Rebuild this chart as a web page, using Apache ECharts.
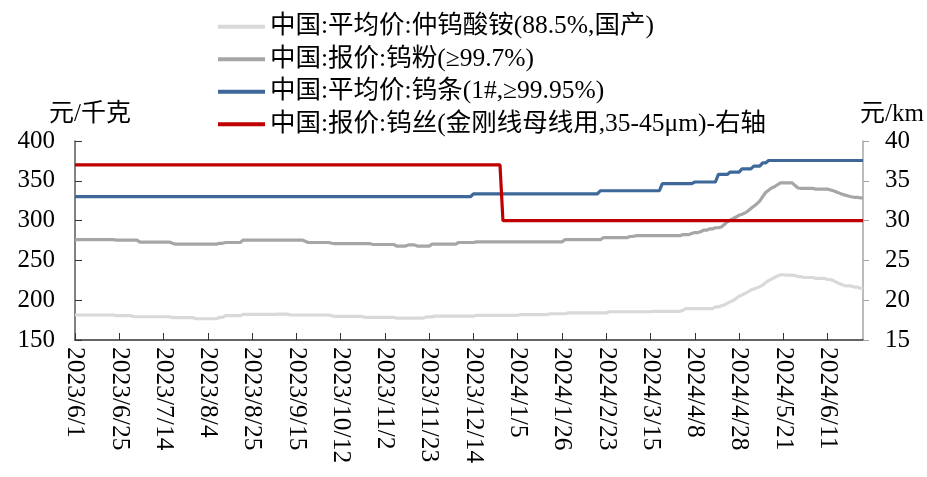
<!DOCTYPE html>
<html><head><meta charset="utf-8">
<script src="https://cdn.jsdelivr.net/npm/echarts/dist/echarts.min.js"></script>
<style>html,body{margin:0;padding:0;background:#fff}#c{width:927px;height:477px}</style>
</head><body><div id="c"></div>
<script>
const categories = [
'2023/6/1','2023/6/2','2023/6/5','2023/6/6','2023/6/7','2023/6/8','2023/6/9','2023/6/12','2023/6/13','2023/6/14','2023/6/15','2023/6/16','2023/6/19','2023/6/20','2023/6/21',
'2023/6/25','2023/6/26','2023/6/27','2023/6/28','2023/6/29','2023/6/30','2023/7/3','2023/7/4','2023/7/5','2023/7/6','2023/7/7','2023/7/10','2023/7/11','2023/7/12','2023/7/13',
'2023/7/14','2023/7/17','2023/7/18','2023/7/19','2023/7/20','2023/7/21','2023/7/24','2023/7/25','2023/7/26','2023/7/27','2023/7/28','2023/7/31','2023/8/1','2023/8/2','2023/8/3',
'2023/8/4','2023/8/7','2023/8/8','2023/8/9','2023/8/10','2023/8/11','2023/8/14','2023/8/15','2023/8/16','2023/8/17','2023/8/18','2023/8/21','2023/8/22','2023/8/23','2023/8/24',
'2023/8/25','2023/8/28','2023/8/29','2023/8/30','2023/8/31','2023/9/1','2023/9/4','2023/9/5','2023/9/6','2023/9/7','2023/9/8','2023/9/11','2023/9/12','2023/9/13','2023/9/14',
'2023/9/15','2023/9/18','2023/9/19','2023/9/20','2023/9/21','2023/9/22','2023/9/25','2023/9/26','2023/9/27','2023/9/28','2023/10/7','2023/10/8','2023/10/9','2023/10/10','2023/10/11',
'2023/10/12','2023/10/13','2023/10/16','2023/10/17','2023/10/18','2023/10/19','2023/10/20','2023/10/23','2023/10/24','2023/10/25','2023/10/26','2023/10/27','2023/10/30','2023/10/31','2023/11/1',
'2023/11/2','2023/11/3','2023/11/6','2023/11/7','2023/11/8','2023/11/9','2023/11/10','2023/11/13','2023/11/14','2023/11/15','2023/11/16','2023/11/17','2023/11/20','2023/11/21','2023/11/22',
'2023/11/23','2023/11/24','2023/11/27','2023/11/28','2023/11/29','2023/11/30','2023/12/1','2023/12/4','2023/12/5','2023/12/6','2023/12/7','2023/12/8','2023/12/11','2023/12/12','2023/12/13',
'2023/12/14','2023/12/15','2023/12/18','2023/12/19','2023/12/20','2023/12/21','2023/12/22','2023/12/25','2023/12/26','2023/12/27','2023/12/28','2023/12/29','2024/1/2','2024/1/3','2024/1/4',
'2024/1/5','2024/1/8','2024/1/9','2024/1/10','2024/1/11','2024/1/12','2024/1/15','2024/1/16','2024/1/17','2024/1/18','2024/1/19','2024/1/22','2024/1/23','2024/1/24','2024/1/25',
'2024/1/26','2024/1/29','2024/1/30','2024/1/31','2024/2/1','2024/2/2','2024/2/4','2024/2/5','2024/2/6','2024/2/7','2024/2/8','2024/2/19','2024/2/20','2024/2/21','2024/2/22',
'2024/2/23','2024/2/26','2024/2/27','2024/2/28','2024/2/29','2024/3/1','2024/3/4','2024/3/5','2024/3/6','2024/3/7','2024/3/8','2024/3/11','2024/3/12','2024/3/13','2024/3/14',
'2024/3/15','2024/3/18','2024/3/19','2024/3/20','2024/3/21','2024/3/22','2024/3/25','2024/3/26','2024/3/27','2024/3/28','2024/3/29','2024/4/1','2024/4/2','2024/4/3','2024/4/7',
'2024/4/8','2024/4/9','2024/4/10','2024/4/11','2024/4/12','2024/4/15','2024/4/16','2024/4/17','2024/4/18','2024/4/19','2024/4/22','2024/4/23','2024/4/24','2024/4/25','2024/4/26',
'2024/4/28','2024/4/29','2024/4/30','2024/5/6','2024/5/7','2024/5/8','2024/5/9','2024/5/10','2024/5/11','2024/5/13','2024/5/14','2024/5/15','2024/5/16','2024/5/17','2024/5/20',
'2024/5/21','2024/5/22','2024/5/23','2024/5/24','2024/5/27','2024/5/28','2024/5/29','2024/5/30','2024/5/31','2024/6/3','2024/6/4','2024/6/5','2024/6/6','2024/6/7','2024/6/10',
'2024/6/11','2024/6/12','2024/6/13','2024/6/14','2024/6/17','2024/6/18','2024/6/19','2024/6/20','2024/6/21','2024/6/24','2024/6/25','2024/6/26','2024/6/27'
];

const seriesNames = ['中国:平均价:仲钨酸铵(88.5%,国产)','中国:报价:钨粉(≥99.7%)','中国:平均价:钨条(1#,≥99.95%)','中国:报价:钨丝(金刚线母线用,35-45μm)-右轴'];

// 仲钨酸铵 APT, 元/千克
const aptPrice = [
181.4,181.4,181.4,181.4,181.4,181.4,181.4,181.4,181.4,181.4,181.4,181.4,181.4,181.4,180.5,
180.5,180.5,180.5,180.5,180.5,179.2,179.2,179.2,179.2,179.2,179.2,179.2,179.2,179.2,179.2,
179.2,179.2,179.2,178,178,178,178,178,178,178,178,176.7,176.7,176.7,176.7,
176.7,176.7,176.7,176.7,178.5,178.5,180.5,180.5,180.5,180.5,180.5,180.5,182.2,182.2,182.2,
182.2,182.2,182.2,182.2,182.2,182.2,182.2,182.2,182.2,182.5,182.5,182.5,182.5,181.4,181.4,
181.4,181.4,181.4,181.4,181.4,181.4,181.4,181.4,181.4,181.4,181.4,181.4,180.5,179.7,179.7,
179.7,179.7,179.7,179.7,179.7,179.7,179.7,179.7,178.8,178.5,178.5,178.5,178.5,178.5,178.5,
178.5,178.5,178.5,178.5,177.5,177.5,177.5,177.5,177.5,177.5,177.5,177.5,177.5,177.5,179,
179,179,180,180,180,180,180,180,180,180,180,180,180,180,180,
180,181,181,181,181,181,181,181,181,181,181,181,181,181,181,
181,182,182,182,182,182,182,182,182,182,182,183,183,183,183,
183,183,184,184,184,184,184,184,184,184,184,184,184,184,184,
184,185.5,185.5,185.5,185.5,185.5,185.5,185.5,185.5,185.5,185.5,185.5,185.5,185.5,185.5,
185.5,186,186,186,186,186,186,186,186,186,186,187.5,189.5,189.5,189.5,
189.5,189.5,189.5,189.5,189.5,189.5,189.5,191.5,191.5,193,194,196,198,199.5,202,
205,206.5,208.5,210.5,212.7,214,215.5,217,219,222,224.5,226.5,228.5,230.5,232,
232,231.5,231.5,231.5,231,229.5,229.5,228.5,228.5,228.5,228.5,227.4,227.4,227.4,227.4,
226,226,224.5,222.5,221,219.5,218,218,218,216.5,216.5,215,215
];

// 钨粉, 元/千克
const powderPrice = [
276,276,276,276,276,276,276,276,276,276,276,276,276,276,275.5,
275.5,275.5,275.5,275.5,275.5,275.5,275.5,273,273,273,273,273,273,273,273,
273,273,273,271.5,270.5,270.5,270.5,270.5,270.5,270.5,270.5,270.5,270.5,270.5,270.5,
270.5,270.5,270.5,270.5,271.5,271.5,272.5,272.5,272.5,272.5,272.5,272.5,275.5,275.5,275.5,
275.5,275.5,275.5,275.5,275.5,275.5,275.5,275.5,275.5,275.5,275.5,275.5,275.5,275.5,275.5,
275.5,275.5,275.5,274,272.5,272.5,272.5,272.5,272.5,272.5,272.5,272.5,271.5,271,271,
271,271,271,271,271,271,271,271,271,271,271,270,270,270,270,
270,270,270,270,268,268,268,268,269.5,269.5,269.5,268,268,268,268,
268,270.5,270.5,270.5,270.5,270.5,270.5,270.5,270.5,270.5,272.5,272.5,272.5,272.5,272.5,
272.5,273.3,273.3,273.3,273.3,273.3,273.3,273.3,273.3,273.3,273.3,273.3,273.3,273.3,273.3,
273.3,273.3,273.3,273.3,273.3,273.3,273.3,273.3,273.3,273.3,273.3,273.3,273.3,273.3,273.3,
273.3,276,276,276,276,276,276,276,276,276,276,276,276,276,278.5,
278.5,278.5,278.5,278.5,278.5,278.5,278.5,278.5,280,280,281,281,281,281,281,
281,281,281,281,281,281,281,281,281,281,281,282.5,282.5,282.5,283.8,
285,285,286,288,288,289.5,289.5,291,291,292,295,298.5,300.5,302.6,304.5,
306.8,308,309.5,312,315.2,318,321,324.5,330,335.3,338.2,341,342.5,345,347.3,
347.5,347.5,347.5,347.5,344,341,340.5,340.5,340.5,340.5,340.5,339.5,339.5,339.5,339.5,
339.5,338.5,337.5,336,334.5,333,332,331,330,329.3,329.3,328.6,328.6
];

// 钨条, 元/千克
const barPrice = [
330,330,330,330,330,330,330,330,330,330,330,330,330,330,330,
330,330,330,330,330,330,330,330,330,330,330,330,330,330,330,
330,330,330,330,330,330,330,330,330,330,330,330,330,330,330,
330,330,330,330,330,330,330,330,330,330,330,330,330,330,330,
330,330,330,330,330,330,330,330,330,330,330,330,330,330,330,
330,330,330,330,330,330,330,330,330,330,330,330,330,330,330,
330,330,330,330,330,330,330,330,330,330,330,330,330,330,330,
330,330,330,330,330,330,330,330,330,330,330,330,330,330,330,
330,330,330,330,330,330,330,330,330,330,330,330,330,330,330,
333.5,333.5,333.5,333.5,333.5,333.5,333.5,333.5,333.5,333.5,333.5,333.5,333.5,333.5,333.5,
333.5,333.5,333.5,333.5,333.5,333.5,333.5,333.5,333.5,333.5,333.5,333.5,333.5,333.5,333.5,
333.5,333.5,333.5,333.5,333.5,333.5,333.5,333.5,333.5,333.5,333.5,333.5,333.5,337.5,337.5,
337.5,337.5,337.5,337.5,337.5,337.5,337.5,337.5,337.5,337.5,337.5,337.5,337.5,337.5,337.5,
337.5,337.5,337.5,337.5,346.5,346.5,346.5,346.5,346.5,346.5,346.5,346.5,346.5,346.5,346.5,
348.5,348.5,348.5,348.5,348.5,348.5,348.5,348.5,358,358,358,358,361,361,361,
361,365,365,365,365,368.5,368.5,368.5,372.5,372.5,375.5,375.5,375.5,375.5,375.5,
375.5,375.5,375.5,375.5,375.5,375.5,375.5,375.5,375.5,375.5,375.5,375.5,375.5,375.5,375.5,
375.5,375.5,375.5,375.5,375.5,375.5,375.5,375.5,375.5,375.5,375.5,375.5,375.5
];

// 钨丝, 元/km (right axis)
const wirePrice = [
37,37,37,37,37,37,37,37,37,37,37,37,37,37,37,
37,37,37,37,37,37,37,37,37,37,37,37,37,37,37,
37,37,37,37,37,37,37,37,37,37,37,37,37,37,37,
37,37,37,37,37,37,37,37,37,37,37,37,37,37,37,
37,37,37,37,37,37,37,37,37,37,37,37,37,37,37,
37,37,37,37,37,37,37,37,37,37,37,37,37,37,37,
37,37,37,37,37,37,37,37,37,37,37,37,37,37,37,
37,37,37,37,37,37,37,37,37,37,37,37,37,37,37,
37,37,37,37,37,37,37,37,37,37,37,37,37,37,37,
37,37,37,37,37,37,37,37,37,37,30,30,30,30,30,
30,30,30,30,30,30,30,30,30,30,30,30,30,30,30,
30,30,30,30,30,30,30,30,30,30,30,30,30,30,30,
30,30,30,30,30,30,30,30,30,30,30,30,30,30,30,
30,30,30,30,30,30,30,30,30,30,30,30,30,30,30,
30,30,30,30,30,30,30,30,30,30,30,30,30,30,30,
30,30,30,30,30,30,30,30,30,30,30,30,30,30,30,
30,30,30,30,30,30,30,30,30,30,30,30,30,30,30,
30,30,30,30,30,30,30,30,30,30,30,30,30
];

const leftTicks = {min:150, max:400, interval:50};
const rightTicks = {min:15, max:40, interval:5};
const colors = ['#d9d9d9','#a6a6a6','#3d6899','#c00000'];

const FONT = "'Liberation Serif','Times New Roman','Noto Sans CJK SC',serif";
const chart = echarts.init(document.getElementById('c'), null, {renderer:'canvas'});
const values = [aptPrice, powderPrice, barPrice, wirePrice];
chart.setOption({
  animation:false,
  backgroundColor:'#fff',
  color: colors,
  textStyle:{fontFamily:FONT, color:'#000'},
  legend:{
    orient:'vertical', left:213, top:9, itemGap:7,
    itemWidth:47, itemHeight:4, icon:'rect',
    textStyle:{fontFamily:FONT, fontSize:25.5, color:'#000', lineHeight:25},
    data: seriesNames
  },
  grid:{left:75, right:64, top:141, bottom:137, containLabel:false},
  xAxis:{
    type:'category', data:categories, boundaryGap:false,
    axisLine:{lineStyle:{color:'#333', width:1.5}},
    axisTick:{inside:true, length:7, interval:14, lineStyle:{color:'#333'}},
    axisLabel:{interval:14, rotate:-90, margin:7, fontSize:25.5, color:'#000', fontFamily:FONT},
    splitLine:{show:false}
  },
  yAxis:[{
    type:'value', min:leftTicks.min, max:leftTicks.max, interval:leftTicks.interval,
    name:'元/千克', nameLocation:'end', nameGap:14,
    nameTextStyle:{fontSize:25, color:'#000', fontFamily:FONT, align:'center', padding:[0,0,0,30]},
    axisLine:{show:true, lineStyle:{color:'#595959', width:1.5}},
    axisTick:{show:true, inside:true, length:7, lineStyle:{color:'#333'}},
    axisLabel:{fontSize:25, color:'#000', margin:20, fontFamily:FONT},
    splitLine:{show:false}
  },{
    type:'value', min:rightTicks.min, max:rightTicks.max, interval:rightTicks.interval,
    name:'元/km', nameLocation:'end', nameGap:14,
    nameTextStyle:{fontSize:25, color:'#000', fontFamily:FONT, align:'center', padding:[0,0,0,58]},
    axisLine:{show:true, lineStyle:{color:'#a6a6a6', width:1.5}},
    axisTick:{show:true, inside:false, length:6, lineStyle:{color:'#a6a6a6'}},
    axisLabel:{fontSize:25, color:'#000', margin:22, fontFamily:FONT},
    splitLine:{show:false}
  }],
  series: seriesNames.map((n,k)=>({
    name:n, type:'line', data:values[k], yAxisIndex: k===3?1:0,
    showSymbol:false, symbol:'none', smooth:false,
    lineStyle:{width:3.2, color:colors[k]}, itemStyle:{color:colors[k]},
    z: 2+k
  }))
});
</script></body></html>
